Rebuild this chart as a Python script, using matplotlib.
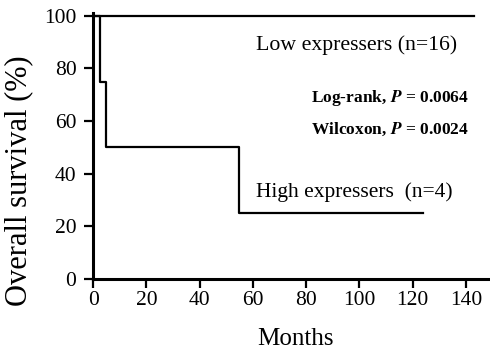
import matplotlib.pyplot as plt

# Kaplan-Meier step data (months, survival %)
low_t = [0, 143]
low_s = [100, 100]
high_t = [0, 2.6, 4.9, 54.6, 124]
high_s = [100, 75, 50, 25, 25]

xticks = [0, 20, 40, 60, 80, 100, 120, 140]
yticks = [0, 20, 40, 60, 80, 100]

plt.rcParams['font.family'] = ['Liberation Serif', 'DejaVu Serif']
plt.rcParams['mathtext.fontset'] = 'stix'

fig = plt.figure(figsize=(4.9, 3.5), dpi=100)
ax = fig.add_axes([0.19, 0.203, 0.81, 0.76])

ax.step(low_t, low_s, where='post', color='black', linewidth=1.6)
ax.step(high_t, high_s, where='post', color='black', linewidth=1.6)

ax.set_xlim(0, 149)
ax.set_ylim(0, 101.1)
ax.set_xticks(xticks)
ax.set_yticks(yticks)
ax.tick_params(direction='out', length=6.5, width=1.6, labelsize=15.5)
ax.tick_params(axis='x', pad=2)
ax.tick_params(axis='y', pad=5.5)

for side in ['top', 'right']:
    ax.spines[side].set_visible(False)
for side in ['left', 'bottom']:
    ax.spines[side].set_linewidth(2.2)

ax.set_xlabel('Months', fontsize=18)
ax.set_ylabel('Overall survival (%)', fontsize=22)
ax.xaxis.set_label_coords(0.511, -0.185)
ax.yaxis.set_label_coords(-0.152, 0.368)

ax.text(61, 89, 'Low expressers (n=16)', fontsize=15.7, va='center', ha='left')
ax.text(141, 68.8, 'Log-rank, $\\mathbfit{P}$ = 0.0064', fontsize=12.5,
        fontweight='bold', va='center', ha='right')
ax.text(141, 56.7, 'Wilcoxon, $\\mathbfit{P}$ = 0.0024', fontsize=12.5,
        fontweight='bold', va='center', ha='right')
ax.text(61, 33.1, 'High expressers  (n=4)', fontsize=15.5, va='center', ha='left')

fig.savefig('out.png', dpi=100)
